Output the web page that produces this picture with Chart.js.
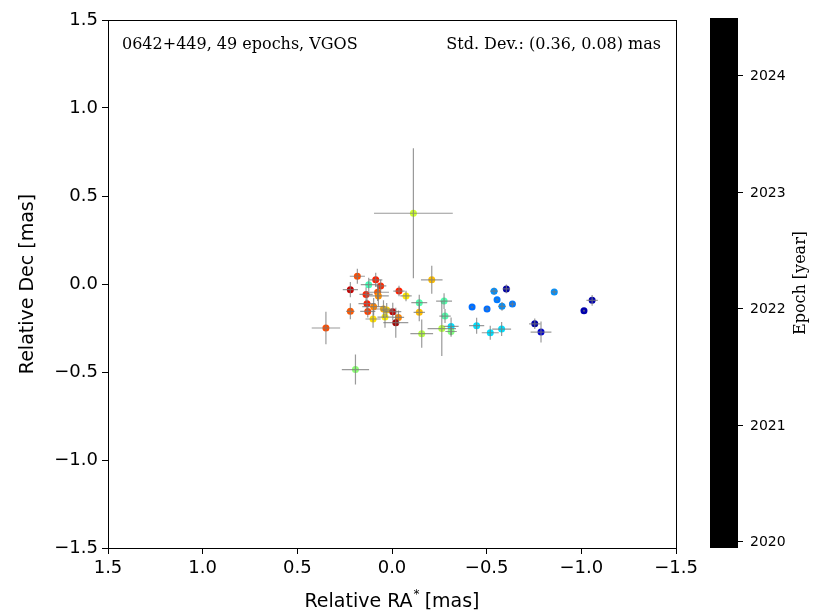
<!DOCTYPE html>
<html>
<head>
<meta charset="utf-8">
<script src="https://cdn.jsdelivr.net/npm/chart.js@4"></script>
<style>
    body { margin: 0; background: #fff; }
    .wrap { width: 821px; height: 614px; position: relative; }
</style>
</head>
<body>
<div class="wrap"><canvas id="astrometry"></canvas></div>
<script>
// DATA
const ra = [0.183, 0.220, 0.123, 0.086, 0.060, 0.137, 0.076, 0.072, -0.037, -0.074,
    -0.210, -0.144, -0.275, 0.220, 0.132, 0.128, 0.097, 0.100, 0.045, 0.028,
    0.037, -0.004, -0.034, -0.020, -0.144, -0.280, 0.349, -0.157, -0.263, -0.312,
    -0.312, 0.193, -0.539, -0.604, -0.857, -1.057, -1.014, -0.423, -0.502, -0.555,
    -0.581, -0.636, -0.447, -0.519, -0.579, -0.754, -0.787, -0.113]
const dec = [0.044, -0.032, -0.004, 0.024, -0.011, -0.059, -0.047, -0.068, -0.040, -0.068,
    0.024, -0.106, -0.097, -0.155, -0.112, -0.156, -0.129, -0.199, -0.142, -0.148,
    -0.188, -0.157, -0.190, -0.220, -0.161, -0.182, -0.250, -0.282, -0.253, -0.241,
    -0.270, -0.486, -0.041, -0.028, -0.045, -0.093, -0.152, -0.131, -0.142, -0.089,
    -0.127, -0.114, -0.237, -0.277, -0.256, -0.226, -0.273, 0.402]
const raErr = [0.040, 0.040, 0.042, 0.035, 0.030, 0.035, 0.060, 0.055, 0.030, 0.030,
    0.057, 0.042, 0.042, 0.022, 0.045, 0.040, 0.060, 0.040, 0.045, 0.030,
    0.040, 0.045, 0.030, 0.066, 0.030, 0.030, 0.075, 0.060, 0.075, 0.040,
    0.030, 0.072, 0.020, 0.020, 0.015, 0.030, 0.005, 0.005, 0.010, 0.005,
    0.020, 0.015, 0.040, 0.045, 0.050, 0.030, 0.055, 0.208]
const decErr = [0.043, 0.043, 0.040, 0.040, 0.035, 0.040, 0.050, 0.060, 0.030, 0.030,
    0.080, 0.045, 0.045, 0.045, 0.050, 0.035, 0.050, 0.050, 0.050, 0.040,
    0.060, 0.050, 0.040, 0.085, 0.050, 0.040, 0.092, 0.080, 0.156, 0.050,
    0.030, 0.085, 0.020, 0.025, 0.015, 0.030, 0.005, 0.005, 0.010, 0.005,
    0.025, 0.015, 0.045, 0.040, 0.040, 0.030, 0.060, 0.369]
const epochs = [2020.9, 2020.3, 2022.5, 2020.7, 2020.75, 2020.7, 2020.95, 2021.2, 2020.7, 2021.6,
    2021.4, 2022.45, 2022.45, 2020.95, 2020.7, 2020.85, 2021.15, 2021.55, 2021.35, 2021.5,
    2021.65, 2020.3, 2021.15, 2020.15, 2021.4, 2022.45, 2020.9, 2022.0, 2022.0, 2022.95,
    2022.25, 2022.2, 2023.3, 2024.35, 2023.3, 2024.3, 2024.3, 2023.45, 2023.45, 2023.4,
    2023.3, 2023.4, 2022.95, 2022.95, 2022.95, 2024.35, 2024.15, 2021.9]

const axisTicks = [-1.5, -1.0, -0.5, 0.0, 0.5, 1.0, 1.5]
const epochTicks = [2020, 2021, 2022, 2023, 2024]
const epochRange = [2019.94, 2024.49]

const infoLeft = '0642+449, 49 epochs, VGOS'
const infoRight = 'Std. Dev.: (0.36, 0.08) mas'

// COLORS (jet reversed, early = red)
const jet = (t) => {
    const c = (v) => Math.round(255 * Math.min(1, Math.max(0, v)))
    return `rgb(${c(1.5 - Math.abs(4 * t - 3))}, ${c(1.5 - Math.abs(4 * t - 2))}, ${c(1.5 - Math.abs(4 * t - 1))})`
}
const epochColor = (epoch) => jet(1 - (epoch - 2020) / 4.5)

const fmt = (v) => v.toFixed(1).replace('-', '\u2212')
const sans = '"DejaVu Sans", sans-serif'
const serif = '"DejaVu Serif", serif'

// ERROR BARS + FRAME + COLORBAR
const extras = {
    id: 'extras',
    afterDatasetsDraw(chart) {
        const { ctx, chartArea: area, scales: { x, y } } = chart
        ctx.save()
        ctx.beginPath()
        ctx.rect(area.left, area.top, area.right - area.left, area.bottom - area.top)
        ctx.clip()
        ctx.strokeStyle = 'rgba(120, 120, 120, 0.75)'
        ctx.lineWidth = 1.2
        ra.forEach((value, i) => {
            const px = x.getPixelForValue(value)
            const py = y.getPixelForValue(dec[i])
            ctx.beginPath()
            ctx.moveTo(x.getPixelForValue(value - raErr[i]), py)
            ctx.lineTo(x.getPixelForValue(value + raErr[i]), py)
            ctx.moveTo(px, y.getPixelForValue(dec[i] - decErr[i]))
            ctx.lineTo(px, y.getPixelForValue(dec[i] + decErr[i]))
            ctx.stroke()
        })
        ctx.restore()
    },
    afterDraw(chart) {
        const { ctx, chartArea: area } = chart
        ctx.save()

        // frame
        ctx.strokeStyle = '#000'
        ctx.lineWidth = 1
        ctx.strokeRect(area.left + 0.5, area.top + 0.5, area.right - area.left, area.bottom - area.top)

        // info texts
        ctx.fillStyle = '#000'
        ctx.font = `16px ${serif}`
        ctx.textBaseline = 'middle'
        ctx.textAlign = 'left'
        ctx.fillText(infoLeft, area.left + 14, 45)
        ctx.textAlign = 'right'
        ctx.fillText(infoRight, area.right - 15, 45)

        // axis titles
        ctx.font = `19px ${sans}`
        ctx.textAlign = 'left'
        ctx.textBaseline = 'alphabetic'
        const xTitleA = 'Relative RA'
        const xTitleB = ' [mas]'
        ctx.font = `19px ${sans}`
        const wA = ctx.measureText(xTitleA).width
        const wB = ctx.measureText(xTitleB).width
        ctx.font = `12px ${sans}`
        const wStar = ctx.measureText('*').width
        const midX = (area.left + area.right) / 2
        let sx = midX - (wA + wStar + wB) / 2
        ctx.font = `19px ${sans}`
        ctx.fillText(xTitleA, sx, 607)
        ctx.font = `12px ${sans}`
        ctx.fillText('*', sx + wA + 1, 598)
        ctx.font = `19px ${sans}`
        ctx.fillText(xTitleB, sx + wA + wStar, 607)

        ctx.save()
        ctx.translate(33, (area.top + area.bottom) / 2)
        ctx.rotate(-Math.PI / 2)
        ctx.textAlign = 'center'
        ctx.fillText('Relative Dec [mas]', 0, 0)
        ctx.restore()

        // colorbar
        const barLeft = 710
        const barRight = 738
        const barTop = 18
        const barBottom = 548
        const epochY = (e) => barBottom - (e - epochRange[0]) / (epochRange[1] - epochRange[0]) * (barBottom - barTop)
        ctx.fillStyle = '#000'
        ctx.fillRect(barLeft, barTop, barRight - barLeft, barBottom - barTop)
        ctx.font = `14px ${sans}`
        ctx.textAlign = 'left'
        ctx.textBaseline = 'middle'
        epochTicks.forEach((tick) => {
            const ty = Math.round(epochY(tick)) + 0.5
            ctx.beginPath()
            ctx.moveTo(barRight, ty)
            ctx.lineTo(barRight + 5, ty)
            ctx.stroke()
            ctx.fillText(String(tick), barRight + 12, ty + 1)
        })
        ctx.save()
        ctx.translate(801, (barTop + barBottom) / 2)
        ctx.rotate(-Math.PI / 2)
        ctx.textAlign = 'center'
        ctx.font = `16px ${serif}`
        ctx.fillText('Epoch [year]', 0, 0)
        ctx.restore()

        ctx.restore()
    }
}

// SCATTER
const scatterCtx = document.getElementById('astrometry')

new Chart(scatterCtx, {
    type: 'scatter',
    data: {
        datasets: [{
            data: ra.map((value, i) => ({ x: value, y: dec[i] })),
            backgroundColor: epochs.map(epochColor),
            borderColor: epochs.map(epochColor),
            borderWidth: 0,
            pointRadius: 3.5,
            pointHoverRadius: 3.5,
        }]
    },
    options: {
        responsive: true,
        maintainAspectRatio: false,
        animation: false,
        events: [],
        layout: {
            padding: { left: 0, top: 20, right: 145, bottom: 0 }
        },
        plugins: {
            legend: { display: false },
            tooltip: { enabled: false },
        },
        scales: {
            x: {
                type: 'linear',
                reverse: true,
                min: -1.5,
                max: 1.5,
                afterFit: (scale) => { scale.height = 66 },
                afterBuildTicks: (scale) => { scale.ticks = axisTicks.map(v => ({ value: v })) },
                border: { display: true, color: '#000' },
                grid: {
                    display: true,
                    drawOnChartArea: false,
                    drawTicks: true,
                    tickLength: 6,
                    color: '#000',
                },
                ticks: {
                    color: '#000',
                    padding: 4,
                    maxRotation: 0,
                    font: { family: sans, size: 18 },
                    callback: (v) => fmt(v),
                }
            },
            y: {
                type: 'linear',
                min: -1.5,
                max: 1.5,
                afterFit: (scale) => { scale.width = 108 },
                afterBuildTicks: (scale) => { scale.ticks = axisTicks.map(v => ({ value: v })) },
                border: { display: true, color: '#000' },
                grid: {
                    display: true,
                    drawOnChartArea: false,
                    drawTicks: true,
                    tickLength: 6,
                    color: '#000',
                },
                ticks: {
                    color: '#000',
                    padding: 4,
                    font: { family: sans, size: 18 },
                    callback: (v) => fmt(v),
                }
            }
        }
    },
    plugins: [extras],
})
</script>
</body>
</html>
